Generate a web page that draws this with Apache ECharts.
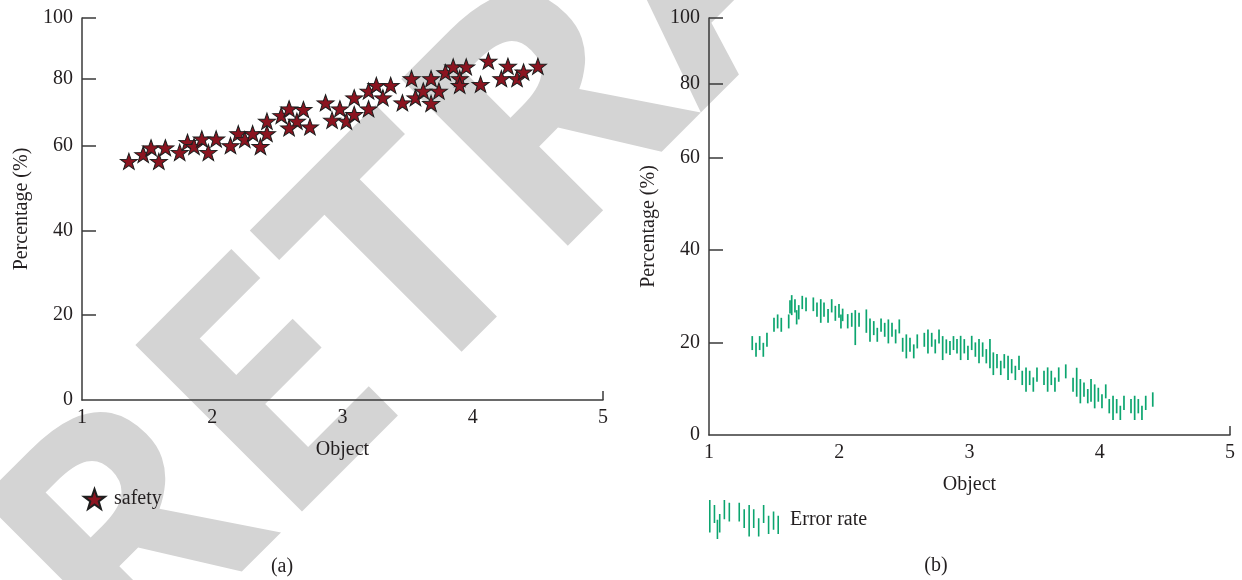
<!DOCTYPE html>
<html>
<head>
<meta charset="utf-8">
<script src="https://cdn.jsdelivr.net/npm/echarts@6/dist/echarts.min.js"></script>
<style>
  html, body { margin: 0; padding: 0; background: #ffffff; }
  #chart { width: 1242px; height: 580px; }
</style>
</head>
<body>
<div id="chart"></div>
<script>
// ---------- data ----------
const safetyX = [1.36, 1.47, 1.53, 1.59, 1.64, 1.75, 1.81, 1.86, 1.92, 1.97, 2.03, 2.14, 2.20, 2.25, 2.31, 2.37, 2.42, 2.42,
  2.53, 2.59, 2.65, 2.59, 2.70, 2.75, 2.87, 2.92, 2.98, 3.03, 3.09, 3.09, 3.20, 3.20, 3.26, 3.31, 3.37, 3.46, 3.53, 3.56,
  3.62, 3.68, 3.68, 3.74, 3.79, 3.85, 3.90, 3.90, 3.95, 4.06, 4.12, 4.22, 4.27, 4.34, 4.39, 4.50];
const safetyY = [56.3, 57.9, 59.5, 56.3, 59.5, 58.4, 61.0, 59.8, 62.0, 58.4, 62.0, 60.0, 63.6, 61.8, 63.6, 59.8, 63.6, 67.3,
  69.0, 71.0, 67.3, 65.3, 70.8, 65.6, 72.8, 67.6, 71.0, 67.3, 74.3, 69.3, 71.0, 76.3, 78.0, 74.3, 78.0, 72.8, 80.0, 74.3,
  76.3, 80.0, 72.6, 76.3, 82.0, 83.9, 80.0, 78.0, 83.9, 78.3, 85.8, 80.0, 84.1, 80.0, 82.2, 84.1];

const errX = [1.332, 1.361, 1.389, 1.417, 1.445, 1.499, 1.527, 1.555, 1.612, 1.622, 1.635, 1.660, 1.673, 1.689, 1.716, 1.745,
  1.801, 1.829, 1.858, 1.883, 1.914, 1.942, 1.970, 1.998, 2.013, 2.026, 2.065, 2.096, 2.123, 2.152, 2.208, 2.236, 2.265,
  2.292, 2.321, 2.349, 2.377, 2.405, 2.433, 2.461, 2.487, 2.515, 2.543, 2.572, 2.599, 2.653, 2.681, 2.710, 2.737, 2.766,
  2.794, 2.822, 2.850, 2.877, 2.904, 2.932, 2.960, 2.988, 3.017, 3.045, 3.073, 3.101, 3.129, 3.157, 3.183, 3.211, 3.240,
  3.267, 3.296, 3.324, 3.352, 3.380, 3.405, 3.434, 3.462, 3.490, 3.518, 3.572, 3.600, 3.628, 3.656, 3.685, 3.739, 3.795,
  3.823, 3.851, 3.879, 3.908, 3.933, 3.961, 3.989, 4.017, 4.046, 4.073, 4.102, 4.130, 4.158, 4.186, 4.240, 4.268, 4.296,
  4.324, 4.353, 4.407];
const errHigh = [21.37, 19.92, 21.37, 19.92, 22.08, 25.32, 26.05, 25.32, 26.05, 29.14, 30.22, 29.35, 26.98, 28.06, 30.07, 29.72,
  29.72, 28.64, 29.35, 28.64, 27.20, 29.35, 27.91, 28.28, 26.05, 27.30, 26.12, 26.40, 26.98, 26.40, 27.13, 25.19, 24.61,
  23.16, 25.19, 24.24, 24.97, 24.24, 22.81, 24.97, 21.00, 21.74, 21.00, 19.58, 21.74, 22.08, 22.81, 22.08, 20.66, 22.81,
  21.37, 20.66, 20.29, 21.37, 20.72, 21.43, 20.72, 19.27, 21.43, 20.01, 20.72, 20.01, 18.56, 20.72, 17.85, 17.48, 16.04,
  17.48, 17.12, 16.40, 14.96, 17.12, 13.88, 14.61, 13.88, 12.45, 14.61, 13.88, 14.61, 13.88, 12.45, 14.61, 15.26, 12.37,
  14.53, 12.09, 11.37, 9.93, 12.09, 10.94, 10.21, 8.78, 10.94, 7.77, 8.48, 7.77, 6.32, 8.48, 7.77, 8.48, 7.77,
  6.32, 8.48, 9.22];
const errLow = [18.35, 16.90, 18.35, 16.90, 19.06, 22.30, 23.03, 22.30, 23.03, 26.27, 25.90, 26.48, 23.89, 24.97, 27.20, 26.76,
  26.76, 25.53, 24.24, 25.53, 24.24, 26.48, 24.67, 25.32, 23.03, 24.60, 23.03, 23.38, 19.43, 23.38, 22.08, 20.14, 21.58,
  20.14, 22.30, 21.22, 19.79, 21.22, 19.79, 21.95, 17.98, 16.56, 17.98, 16.56, 18.71, 19.06, 17.63, 19.06, 17.63, 19.79,
  16.19, 17.63, 17.27, 18.35, 17.63, 16.19, 17.63, 16.19, 18.35, 16.90, 15.48, 16.90, 15.48, 14.40, 12.95, 14.40, 12.95,
  14.40, 11.87, 13.32, 11.87, 14.03, 10.79, 9.35, 10.79, 9.35, 11.50, 10.79, 9.35, 10.79, 9.35, 11.50, 12.24, 9.35,
  8.27, 6.84, 8.27, 6.84, 7.19, 5.76, 7.19, 5.76, 7.92, 4.68, 3.24, 4.68, 3.24, 5.40, 4.68, 3.24, 4.68,
  3.24, 5.40, 6.11];

// tick labels of the value axes
const yTickLabels = [0, 20, 40, 60, 80, 100];
const xTickLabels = [1, 2, 3, 4, 5];
const seriesNames = ['safety', 'Error rate'];
const panelLabels = ['(a)', '(b)'];
const watermarkText = 'RETRACTED';

// The reference's y axis is not linear: the 60-80 and 80-100 steps are drawn shorter.
// This calibration maps a percentage value to its place on the drawn axis.
const yScaleDomain = [0, 20, 40, 60, 80, 100];
const yScaleRange = [0, 20, 40, 60, 75.8, 90.1];
function yScale(v) {
  for (let i = 1; i < yScaleDomain.length; i++) {
    if (v <= yScaleDomain[i] || i === yScaleDomain.length - 1) {
      const t = (v - yScaleDomain[i - 1]) / (yScaleDomain[i] - yScaleDomain[i - 1]);
      return yScaleRange[i - 1] + t * (yScaleRange[i] - yScaleRange[i - 1]);
    }
  }
  return v;
}
const yTickPos = yTickLabels.map(yScale);

// ---------- styles ----------
const FONT = 'Liberation Serif';
const TXT = '#231f20';
const AXIS = '#3a3a3a';
const STAR = 'path://M50 0 L61.76 33.82 L97.55 34.55 L69.02 56.18 L79.39 90.45 L50 70 L20.61 90.45 L30.98 56.18 L2.45 34.55 L38.24 33.82 Z';
const GREEN = '#0ca56f';
// legend glyph: a small cluster of vertical bars like the reference key
const legendBars = [[0,0,32.7],[4.7,5,23.3],[7.7,20,39.3],[10,14,32.7],[14.7,0,19.3],[19.7,2.7,21.7],[29.7,2.7,21.7],
  [34.7,9.3,28.3],[39.7,5,36.7],[44.3,9.3,28.3],[49.3,18.3,36.7],[54.3,5,23.3],[59.3,16,34.3],[64.3,11.7,30],[69,16,34.3]];
const BARS_ICON = 'path://' + legendBars.map(b =>
  'M' + b[0] + ' ' + b[1] + ' L' + (b[0] + 1.6) + ' ' + b[1] + ' L' + (b[0] + 1.6) + ' ' + b[2] + ' L' + b[0] + ' ' + b[2] + ' Z').join(' ');

function xAxisOpt(gridIndex) {
  return {
    type: 'value', gridIndex: gridIndex, min: 1, max: 5, interval: 1,
    name: 'Object', nameLocation: 'middle', nameGap: 40,
    nameTextStyle: { fontFamily: FONT, fontSize: 20, color: TXT },
    axisLine: { show: true, onZero: false, lineStyle: { color: AXIS, width: 1.5 } },
    axisTick: { show: true, inside: true, length: 9, customValues: [5], lineStyle: { color: AXIS, width: 1.5 } },
    axisLabel: { show: true, margin: 8, fontFamily: FONT, fontSize: 20, color: TXT,
      formatter: v => (xTickLabels.indexOf(v) >= 0 ? String(v) : '') },
    splitLine: { show: false }
  };
}
function yAxisOpt(gridIndex) {
  return {
    type: 'value', gridIndex: gridIndex, min: 0, max: yTickPos[yTickPos.length - 1],
    name: 'Percentage (%)', nameLocation: 'middle', nameGap: 50,
    nameTextStyle: { fontFamily: FONT, fontSize: 20, color: TXT },
    axisLine: { show: true, lineStyle: { color: AXIS, width: 1.5 } },
    axisTick: { show: true, inside: true, length: 14, customValues: yTickPos.slice(1), lineStyle: { color: AXIS, width: 1.5 } },
    axisLabel: { show: true, margin: 9, fontFamily: FONT, fontSize: 20, color: TXT,
      customValues: yTickPos,
      formatter: v => {
        let best = 0;
        yTickPos.forEach((p, i) => { if (Math.abs(p - v) < Math.abs(yTickPos[best] - v)) best = i; });
        return String(yTickLabels[best]);
      } },
    splitLine: { show: false }
  };
}

const chart = echarts.init(document.getElementById('chart'), null, { renderer: 'canvas' });
const option = {
  backgroundColor: '#ffffff',
  animation: false,
  grid: [
    { left: 82, right: 1242 - 603, top: 18, bottom: 580 - 400, outerBoundsMode: 'none', containLabel: false },
    { left: 709, right: 1242 - 1230, top: 18, bottom: 580 - 435, outerBoundsMode: 'none', containLabel: false }
  ],
  xAxis: [xAxisOpt(0), xAxisOpt(1)],
  yAxis: [yAxisOpt(0), yAxisOpt(1)],
  legend: [
    { left: 83, top: 488, padding: 0, itemWidth: 21, itemHeight: 20, selectedMode: false,
      data: [{ name: seriesNames[0], icon: STAR }],
      textStyle: { fontFamily: FONT, fontSize: 20, color: TXT, padding: [0, 0, 0, 4] } },
    { left: 709, top: 500, padding: 0, itemWidth: 70, itemHeight: 39, selectedMode: false,
      data: [{ name: seriesNames[1], icon: BARS_ICON }],
      textStyle: { fontFamily: FONT, fontSize: 20, color: TXT, padding: [0, 0, 0, 6] } }
  ],
  graphic: [
    { type: 'text', z: -10, x: 60.5, y: 620, rotation: Math.PI / 4, silent: true,
      style: { text: watermarkText, fontFamily: 'Open Sans', fontWeight: 'bold', fontSize: 330,
        fill: '#d4d4d4', textAlign: 'left', textVerticalAlign: 'middle' } },
    { type: 'text', x: 282, y: 567, style: { text: panelLabels[0], fontFamily: FONT, fontSize: 20, fill: TXT,
      textAlign: 'center', textVerticalAlign: 'middle' } },
    { type: 'text', x: 936, y: 566, style: { text: panelLabels[1], fontFamily: FONT, fontSize: 20, fill: TXT,
      textAlign: 'center', textVerticalAlign: 'middle' } }
  ],
  series: [
    {
      name: seriesNames[0], type: 'scatter', xAxisIndex: 0, yAxisIndex: 0,
      symbol: STAR, symbolSize: [17, 16],
      itemStyle: { color: '#8b1420', borderColor: '#1e1e1e', borderWidth: 1, opacity: 1 },
      data: safetyX.map((x, i) => [x, yScale(safetyY[i])])
    },
    {
      name: seriesNames[1], type: 'custom', xAxisIndex: 1, yAxisIndex: 1,
      itemStyle: { color: GREEN },
      encode: { x: 0, y: [1, 2] },
      data: errX.map((x, i) => [x, yScale(errLow[i]), yScale(errHigh[i])]),
      renderItem: function (params, api) {
        const p1 = api.coord([api.value(0), api.value(1)]);
        const p2 = api.coord([api.value(0), api.value(2)]);
        return { type: 'line', shape: { x1: p1[0], y1: p1[1], x2: p2[0], y2: p2[1] },
          style: { stroke: GREEN, lineWidth: 1.7 } };
      }
    }
  ]
};
chart.setOption(option);
</script>
</body>
</html>
